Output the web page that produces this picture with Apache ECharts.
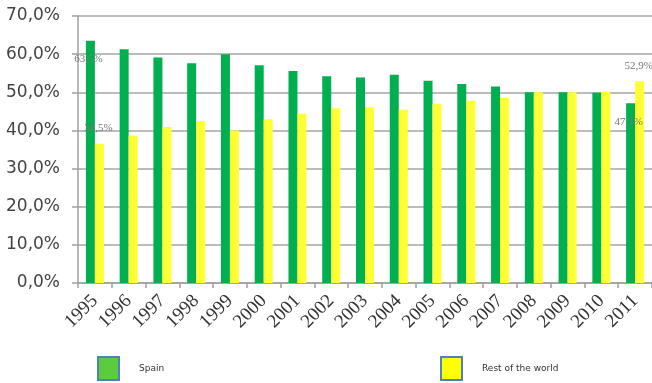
<!DOCTYPE html>
<html>
<head>
<meta charset="utf-8">
<script src="https://cdn.jsdelivr.net/npm/echarts@6/dist/echarts.min.js"></script>
<style>html,body{margin:0;padding:0;background:#fff;}#c{width:652px;height:383px;}</style>
</head>
<body>
<div id="c"></div>
<script>
var years = ['1995','1996','1997','1998','1999','2000','2001','2002','2003','2004','2005','2006','2007','2008','2009','2010','2011'];
var spain = [63.5,61.3,59.1,57.6,60.0,57.1,55.6,54.2,53.9,54.6,53.0,52.2,51.5,50.0,50.0,49.9,47.1];
var rest  = [36.5,38.7,40.9,42.4,40.0,42.9,44.4,45.8,46.1,45.4,47.0,47.8,48.5,50.0,50.0,50.1,52.9];
var labelledIdx = [0, 16];
var seriesNames = ['Spain', 'Rest of the world'];

function fmt(v){ return v.toFixed(1).replace('.', ',') + '%'; }

function buildData(arr, offset){
  return arr.map(function(v, i){
    if (labelledIdx.indexOf(i) >= 0) {
      return {value: v, label: {show: true, position: 'top', offset: offset,
        formatter: function(p){ return fmt(p.value); },
        fontFamily: 'Liberation Serif', fontSize: 11, color: '#777'}};
    }
    return v;
  });
}

var chart = echarts.init(document.getElementById('c'));
chart.setOption({
  animation: false,
  grid: {left: 78, top: 16, width: 578, bottom: 100},
  xAxis: {
    type: 'category', data: years,
    axisLine: {lineStyle: {color: '#a0a0a0', width: 1.5}},
    axisTick: {show: true, length: 5, lineStyle: {color: '#a0a0a0', width: 1.5}},
    axisLabel: {rotate: 45, margin: 15, fontFamily: 'Liberation Serif', fontSize: 19, color: '#333', interval: 0}
  },
  yAxis: {
    type: 'value', min: 0, max: 70, interval: 10,
    axisLine: {show: true, lineStyle: {color: '#a0a0a0', width: 1.5}},
    axisTick: {show: true, length: 6, lineStyle: {color: '#a0a0a0', width: 1.5}},
    splitLine: {lineStyle: {color: '#a6a6a6', width: 1.5}},
    axisLabel: {margin: 18, fontFamily: 'DejaVu Sans', fontSize: 17, color: '#444',
      formatter: function(v){ return v.toFixed(1).replace('.', ',') + '%'; }}
  },
  legend: [
    {data: [{name: seriesNames[0], itemStyle: {color: '#5ccc3c', borderColor: '#4f81bd', borderWidth: 2}}],
     left: 97, top: 356, padding: 0, itemWidth: 21, itemHeight: 23, icon: 'rect',
     textStyle: {fontFamily: 'DejaVu Sans', fontSize: 9, color: '#333', padding: [0,0,0,15]}},
    {data: [{name: seriesNames[1], itemStyle: {color: '#ffff00', borderColor: '#4f81bd', borderWidth: 2}}],
     left: 440, top: 356, padding: 0, itemWidth: 21, itemHeight: 23, icon: 'rect',
     textStyle: {fontFamily: 'DejaVu Sans', fontSize: 9, color: '#333', padding: [0,0,0,15]}}
  ],
  series: [
    {name: seriesNames[0], type: 'bar', data: buildData(spain, [-2, 29]), barWidth: 9, barGap: '0%',
     itemStyle: {color: '#00b050'}},
    {name: seriesNames[1], type: 'bar', data: buildData(rest, [-1, -5]), barWidth: 9, barGap: '0%',
     itemStyle: {color: '#ffff33'}}
  ]
});
</script>
</body>
</html>
